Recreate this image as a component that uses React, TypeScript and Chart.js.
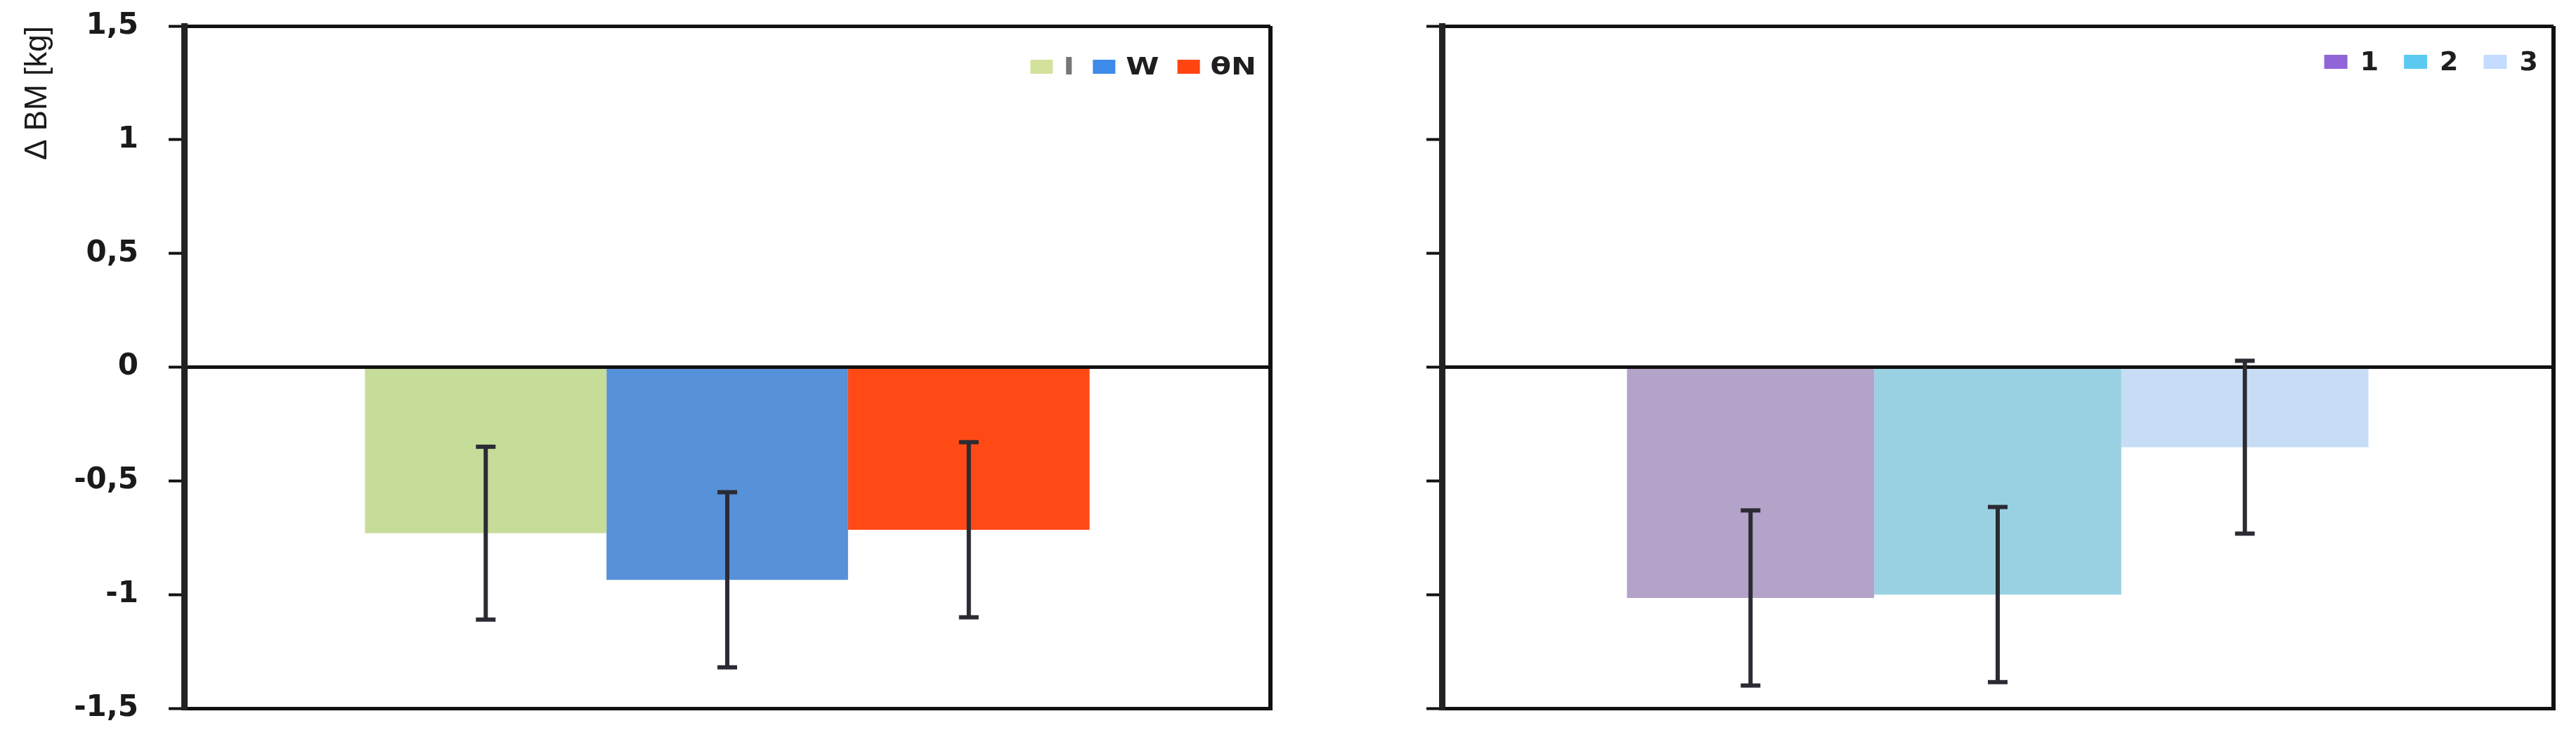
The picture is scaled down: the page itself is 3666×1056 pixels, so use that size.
import React, { useEffect, useRef } from 'react';
import { Chart, registerables } from 'chart.js';

Chart.register(...registerables);

// ---------- data ----------
const categories = [''];
const leftLabels = ['I', 'W', 'θN'];
const leftMeans = [-0.73, -0.935, -0.715];
const leftErrors = [0.38, 0.385, 0.385];
const rightLabels = ['1', '2', '3'];
const rightMeans = [-1.015, -1.0, -0.352];
const rightErrors = [0.385, 0.385, 0.38];
const yTicks = [-1.5, -1, -0.5, 0, 0.5, 1, 1.5];
const yTitle = 'Δ BM [kg]';

// ---------- styles ----------
const leftBarColors = ['#c6dc99', '#5791d9', '#ff4a16'];
const leftLegendColors = ['#d3e29b', '#3d8be8', '#ff4612'];
const leftLegendTextColors = ['#777777', '#1e1e1e', '#1e1e1e'];
const rightBarColors = ['#b3a3c8', '#99d1e3', '#c7ddf5'];
const rightLegendColors = ['#9065d8', '#5ccaf0', '#c4dcff'];
const rightLegendTextColors = ['#1e1e1e', '#1e1e1e', '#1e1e1e'];

const errorBarPlugin = {
  id: 'errorBars',
  afterDraw(chart: any) {
    const { ctx } = chart;
    const yScale = chart.scales.y;
    ctx.save();
    chart.data.datasets.forEach((ds: any, i: number) => {
      const meta = chart.getDatasetMeta(i);
      meta.data.forEach((bar: any, j: number) => {
        const v = ds.data[j];
        const e = ds.errors[j];
        const x = bar.x;
        const yTop = yScale.getPixelForValue(v + e);
        const yBot = yScale.getPixelForValue(v - e);
        ctx.strokeStyle = '#2b2b33';
        ctx.fillStyle = '#2b2b33';
        ctx.lineWidth = 6;
        ctx.beginPath();
        ctx.moveTo(x, yTop);
        ctx.lineTo(x, yBot);
        ctx.stroke();
        const cw = 28;
        const ch = 6;
        ctx.fillRect(x - cw / 2, yTop - ch / 2, cw, ch);
        ctx.fillRect(x - cw / 2, yBot - ch / 2, cw, ch);
      });
    });
    ctx.restore();
  },
};

const insideLegendPlugin = {
  id: 'insideLegend',
  afterDraw(chart: any, _args: any, opts: any) {
    if (!opts || !opts.labels) return;
    const { ctx, chartArea } = chart;
    ctx.save();
    ctx.font = opts.font;
    ctx.textBaseline = 'middle';
    ctx.textAlign = 'left';
    const sx = opts.sx || 1;
    const labels: string[] = opts.labels;
    const widths = labels.map((t) => ctx.measureText(t).width * sx);
    let total = 0;
    labels.forEach((_t, i) => {
      total += opts.boxW + opts.gap + widths[i];
      if (i < labels.length - 1) total += opts.itemGap;
    });
    let x = chartArea.right - opts.offsetRight - total;
    const cy = chartArea.top + opts.offsetTop;
    labels.forEach((t, i) => {
      ctx.fillStyle = opts.colors[i];
      ctx.fillRect(x, cy - opts.boxH / 2, opts.boxW, opts.boxH);
      x += opts.boxW + opts.gap;
      ctx.fillStyle = opts.textColors[i];
      ctx.save();
      ctx.translate(x, cy + 2);
      ctx.scale(sx, 1);
      ctx.fillText(t, 0, 0);
      ctx.restore();
      x += widths[i] + opts.itemGap;
    });
    ctx.restore();
  },
};

function makeConfig(
  labels: string[],
  means: number[],
  errors: number[],
  barColors: string[],
  axisWidth: number,
  showLabels: boolean,
  legend: any,
  padding: any
) {
  return {
    type: 'bar',
    data: {
      labels: categories,
      datasets: labels.map((l, i) => ({
        label: l,
        data: [means[i]],
        errors: [errors[i]],
        backgroundColor: barColors[i],
        borderWidth: 0,
        categoryPercentage: 0.667,
        barPercentage: 1.0,
      })),
    },
    options: {
      responsive: false,
      animation: false,
      devicePixelRatio: 1,
      layout: { padding },
      plugins: {
        legend: { display: false },
        tooltip: { enabled: false },
        insideLegend: legend,
      },
      scales: {
        x: {
          display: true,
          ticks: { display: false },
          grid: {
            display: true,
            offset: true,
            color: '#111111',
            lineWidth: 6,
            drawTicks: false,
          },
          border: { display: true, color: '#111111', width: 5 },
          afterFit: (s: any) => {
            s.height = 0;
            s.paddingLeft = 0;
            s.paddingRight = 0;
          },
        },
        y: {
          z: 1,
          min: -1.5,
          max: 1.5,
          afterBuildTicks: (s: any) => {
            s.ticks = yTicks.map((v) => ({ value: v }));
          },
          afterFit: (s: any) => {
            s.width = axisWidth;
            s.paddingTop = 0;
            s.paddingBottom = 0;
          },
          ticks: {
            display: showLabels,
            padding: 43,
            color: '#1a1a1a',
            font: { family: 'DejaVu Sans', size: 42, weight: 'bold' },
            callback: (v: any) => String(v).replace('.', ','),
          },
          grid: {
            drawTicks: true,
            tickLength: 22,
            tickWidth: 4,
            tickColor: '#111111',
            lineWidth: 5,
            color: (c: any) => {
              const v = c.tick ? c.tick.value : null;
              return v === 0 || v === 1.5 || v === -1.5 ? '#111111' : 'rgba(0,0,0,0)';
            },
          },
          border: { display: true, color: '#222222', width: 9 },
          title: {
            display: showLabels,
            text: yTitle,
            align: 'end',
            color: '#1a1a1a',
            font: { family: 'Liberation Sans', size: 44, lineHeight: 1.2 },
            padding: { top: 27, bottom: 0 },
          },
        },
      },
    },
    plugins: [errorBarPlugin, insideLegendPlugin],
  };
}

function ChartCanvas(props: { width: number; height: number; left: number; config: any }) {
  const ref = useRef<HTMLCanvasElement | null>(null);
  useEffect(() => {
    if (!ref.current) return;
    const chart = new Chart(ref.current, props.config);
    return () => chart.destroy();
  }, []);
  return (
    <canvas
      ref={ref}
      width={props.width}
      height={props.height}
      style={{
        position: 'absolute',
        left: props.left,
        top: 0,
        width: props.width,
        height: props.height,
      }}
    />
  );
}

export default function App() {
  const leftConfig = makeConfig(
    leftLabels,
    leftMeans,
    leftErrors,
    leftBarColors,
    262,
    true,
    {
      labels: leftLabels,
      colors: leftLegendColors,
      textColors: leftLegendTextColors,
      font: 'bold 33px "DejaVu Sans"',
      sx: 1.3,
      boxW: 32,
      boxH: 20,
      gap: 15,
      itemGap: 26,
      offsetRight: 20,
      offsetTop: 58,
    },
    { top: 37, bottom: 48, left: 0, right: 122 }
  );
  const rightConfig = makeConfig(
    rightLabels,
    rightMeans,
    rightErrors,
    rightBarColors,
    122,
    false,
    {
      labels: rightLabels,
      colors: rightLegendColors,
      textColors: rightLegendTextColors,
      font: 'bold 38px "DejaVu Sans"',
      sx: 1,
      boxW: 33,
      boxH: 20,
      gap: 18,
      itemGap: 36,
      offsetRight: 22,
      offsetTop: 51,
    },
    { top: 37, bottom: 48, left: 0, right: 32 }
  );
  return (
    <div
      style={{
        position: 'absolute',
        left: 0,
        top: 0,
        width: 3666,
        height: 1056,
        background: '#ffffff',
        overflow: 'hidden',
      }}
    >
      <ChartCanvas width={1930} height={1056} left={0} config={leftConfig} />
      <ChartCanvas width={1736} height={1056} left={1930} config={rightConfig} />
    </div>
  );
}
